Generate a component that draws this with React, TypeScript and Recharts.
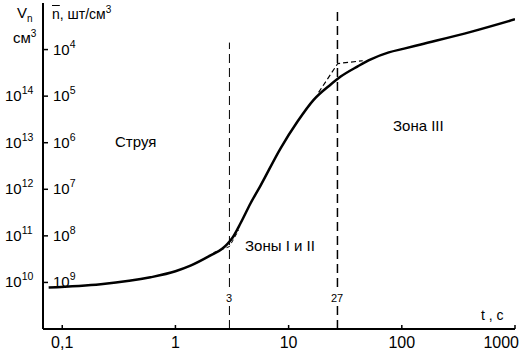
import React from "react"
import { LineChart, Line, XAxis, YAxis, ReferenceLine } from "recharts"

// log10(t, c) vs log10(Vn, cm3)
const curveLogT = [-1.12, -0.66, -0.22, 0, 0.133, 0.31, 0.416, 0.46, 0.504, 0.575, 0.664, 0.752, 0.929, 1.08, 1.221, 1.372, 1.46, 1.611, 1.726, 1.885, 2.02, 2.168, 2.61, 3.0]
const curveLogV = [9.89, 9.96, 10.11, 10.24, 10.36, 10.58, 10.73, 10.83, 10.96, 11.27, 11.7, 12.08, 12.88, 13.46, 13.92, 14.25, 14.42, 14.64, 14.79, 14.94, 15.02, 15.11, 15.38, 15.65]

// dashed asymptote pieces near the zone boundaries
const asym1LogT = [0.336, 0.477, 0.558]
const asym1LogV = [10.64, 10.77, 11.12]
const asym2LogT = [1.265, 1.434, 1.655]
const asym2LogV = [14.08, 14.7, 14.76]

const xTicks = [-1, 0, 1, 2, 3]
const xTickLabels = ["0,1", "1", "10", "100", "1000"]
const yTicks = [10, 11, 12, 13, 14, 15]
const zoneBounds = [3, 27]

const curve = curveLogT.map((t, i) => ({ lt: t, lv: curveLogV[i] }))
const asym1 = asym1LogT.map((t, i) => ({ lt: t, lv: asym1LogV[i] }))
const asym2 = asym2LogT.map((t, i) => ({ lt: t, lv: asym2LogV[i] }))

const font = "'Liberation Sans', Arial, sans-serif"

function YTick(props: any) {
  const { y, payload } = props
  const v = payload.value as number
  return (
    <g fontFamily={font} fill="#000">
      <line x1={43} x2={48} y1={y} y2={y} stroke="#000" strokeWidth={1.5} />
      {v <= 14 && (
        <text x={5} y={y + 5} fontSize={15}>
          10<tspan dy={-7} fontSize={10.5}>{v}</tspan>
        </text>
      )}
      <text x={53} y={y + 5} fontSize={15}>
        10<tspan dy={-7} fontSize={10.5}>{19 - v}</tspan>
      </text>
    </g>
  )
}

function XTick(props: any) {
  const { x, payload } = props
  const idx = xTicks.indexOf(payload.value)
  const last = idx === xTicks.length - 1
  return (
    <g fontFamily={font}>
      <line x1={x} x2={x} y1={329} y2={325} stroke="#000" strokeWidth={1.5} />
      <text x={last ? x + 4 : x} y={348} fontSize={16} textAnchor={last ? "end" : "middle"} fill="#000">
        {xTickLabels[idx]}
      </text>
    </g>
  )
}

const lbl = (left: number, top: number, size: number): React.CSSProperties => ({
  position: "absolute",
  left,
  top,
  fontSize: size,
  lineHeight: 1,
  whiteSpace: "nowrap",
})

const boundLbl = (center: number, top: number): React.CSSProperties => ({
  position: "absolute",
  left: center,
  top,
  transform: "translateX(-50%)",
  fontSize: 11,
  lineHeight: 1,
  background: "#fff",
  padding: "1px 0",
})

export default function App() {
  return (
    <div
      style={{
        position: "absolute",
        left: 0,
        top: 0,
        width: 527,
        height: 358,
        background: "#fff",
        fontFamily: font,
        color: "#000",
      }}
    >
      <LineChart width={527} height={358} margin={{ top: 3, right: 12, bottom: 0, left: 0 }}>
        <XAxis
          type="number"
          dataKey="lt"
          domain={[-1.17, 3.0]}
          ticks={xTicks}
          allowDataOverflow
          tick={<XTick />}
          tickLine={false}
          axisLine={{ stroke: "#000", strokeWidth: 2 }}
          height={29}
        />
        <YAxis
          type="number"
          dataKey="lv"
          domain={[9, 16]}
          ticks={yTicks}
          allowDataOverflow
          tick={<YTick />}
          tickLine={false}
          axisLine={{ stroke: "#000", strokeWidth: 2 }}
          width={43}
        />
        <ReferenceLine
          segment={[
            { x: Math.log10(zoneBounds[0]), y: 9 },
            { x: Math.log10(zoneBounds[0]), y: 15.15 },
          ]}
          stroke="#000"
          strokeWidth={1}
          strokeDasharray="9 5"
        />
        <ReferenceLine
          segment={[
            { x: Math.log10(zoneBounds[1]), y: 9 },
            { x: Math.log10(zoneBounds[1]), y: 15.88 },
          ]}
          stroke="#000"
          strokeWidth={1.5}
          strokeDasharray="9 5"
        />
        <Line
          data={asym1}
          dataKey="lv"
          type="linear"
          stroke="#000"
          strokeWidth={1}
          strokeDasharray="4 3"
          dot={false}
          isAnimationActive={false}
        />
        <Line
          data={asym2}
          dataKey="lv"
          type="linear"
          stroke="#000"
          strokeWidth={1.2}
          strokeDasharray="5 3"
          dot={false}
          isAnimationActive={false}
        />
        <Line
          data={curve}
          dataKey="lv"
          type="monotone"
          stroke="#000"
          strokeWidth={2.5}
          dot={false}
          isAnimationActive={false}
        />
      </LineChart>

      <div style={lbl(17, 5, 15)}>
        V<sub style={{ fontSize: 10 }}>n</sub>
      </div>
      <div style={lbl(13, 29, 15)}>
        см<sup style={{ fontSize: 10 }}>3</sup>
      </div>
      <div style={lbl(52, 5, 14)}>
        <span style={{ textDecoration: "overline" }}>n</span>, шт/см<sup style={{ fontSize: 10 }}>3</sup>
      </div>
      <div style={lbl(115, 134, 15)}>Струя</div>
      <div style={lbl(393, 118, 15)}>Зона III</div>
      <div style={lbl(245, 238, 15)}>Зоны I и II</div>
      <div style={boundLbl(229, 292)}>3</div>
      <div style={boundLbl(337, 292)}>27</div>
      <div style={lbl(481, 308, 14)}>t , c</div>
    </div>
  )
}
